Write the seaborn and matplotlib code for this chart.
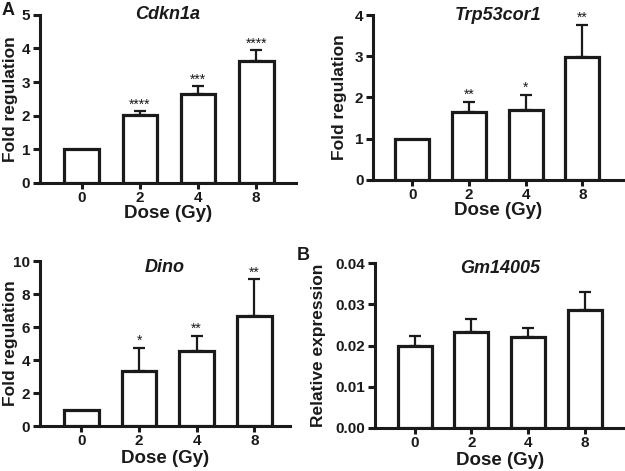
import matplotlib
matplotlib.use("Agg")
import matplotlib.pyplot as plt
import numpy as np
import pandas as pd
import seaborn as sns

# ---- data ----
doses = ["0", "2", "4", "8"]

cdkn1a_mean = [1.0, 2.03, 2.64, 3.64]
cdkn1a_err = [0.0, 0.10, 0.23, 0.30]
cdkn1a_sig = ["", "****", "***", "****"]

trp53_mean = [1.0, 1.64, 1.70, 2.99]
trp53_err = [0.0, 0.25, 0.36, 0.78]
trp53_sig = ["", "**", "*", "**"]

dino_mean = [1.0, 3.35, 4.57, 6.70]
dino_err = [0.0, 1.40, 0.88, 2.20]
dino_sig = ["", "*", "**", "**"]

gm_mean = [0.0199, 0.0232, 0.0222, 0.0287]
gm_err = [0.0025, 0.0032, 0.0021, 0.0042]
gm_sig = ["", "", "", ""]

sns.set_style("ticks")
plt.rcParams['font.family'] = ['Liberation Sans', 'DejaVu Sans']
plt.rcParams['font.weight'] = 'bold'

fig = plt.figure(figsize=(6.25, 4.71), dpi=100)
ink = "#1a1a1a"

panels = [
    # rect, title, ylabel, mean, err, sig, ytop, yticks, xlim, fmt, ylabel x, title y, xlabel pad
    ([0.064, 0.6115, 0.41, 0.357], "Cdkn1a", "Fold regulation",
     cdkn1a_mean, cdkn1a_err, cdkn1a_sig, 5, [0, 1, 2, 3, 4, 5], (-0.72, 3.69), "{:.0f}", -0.084, 1.0, 0),
    ([0.597, 0.618, 0.40, 0.350], "Trp53cor1", "Fold regulation",
     trp53_mean, trp53_err, trp53_sig, 4, [0, 1, 2, 3, 4], (-0.69, 3.72), "{:.0f}", -0.104, 1.0, 0),
    ([0.064, 0.0955, 0.40, 0.350], "Dino", "Fold regulation",
     dino_mean, dino_err, dino_sig, 10, [0, 2, 4, 6, 8, 10], (-0.72, 3.62), "{:.0f}", -0.086, 0.96, 1.5),
    ([0.60, 0.0913, 0.40, 0.350], "Gm14005", "Relative expression",
     gm_mean, gm_err, gm_sig, 0.04, [0, 0.01, 0.02, 0.03, 0.04], (-0.70, 3.71), "{:.2f}", -0.196, 0.97, 1.5),
]

for rect, title, ylabel, mean, err, sig, ytop, yticks, xlim, fmt, ylx, tty, xpad in panels:
    ax = fig.add_axes(rect)
    df = pd.DataFrame({"dose": doses, "value": mean})
    sns.barplot(data=df, x="dose", y="value", ax=ax, color="white",
                edgecolor=ink, linewidth=2.3, width=0.6, errorbar=None,
                zorder=3)
    x = np.arange(len(doses))
    e = np.array(err)
    m = np.array(mean)
    keep = e > 0
    ax.errorbar(x[keep], m[keep], yerr=[np.zeros(keep.sum()), e[keep]],
                fmt="none", ecolor=ink, elinewidth=1.6, capsize=4.5, capthick=1.6,
                zorder=2)
    for xi, mv, er, s in zip(x, mean, err, sig):
        if s:
            ax.text(xi, mv + er, s, ha="center", va="bottom",
                    fontsize=10, fontweight="normal", color=ink)
    ax.set_ylim(0, ytop)
    ax.set_xlim(*xlim)
    ax.set_yticks(yticks)
    ax.set_yticklabels([fmt.format(t) for t in yticks])
    ax.text(0.5, tty, title, transform=ax.transAxes, ha="center", va="center",
            fontsize=13, fontweight="bold", fontstyle="italic", color=ink)
    ax.set_xlabel("Dose (Gy)", fontsize=13.5, fontweight="bold", labelpad=xpad, color=ink)
    ax.set_ylabel(ylabel, fontsize=12.5, fontweight="bold", color=ink)
    ax.yaxis.set_label_coords(ylx, 0.5)
    for sp in ["top", "right"]:
        ax.spines[sp].set_visible(False)
    for sp in ["left", "bottom"]:
        ax.spines[sp].set_linewidth(2.2)
        ax.spines[sp].set_color(ink)
    ax.tick_params(axis="y", width=2.2, length=5, color=ink,
                   labelsize=11, labelcolor=ink, pad=2)
    ax.tick_params(axis="x", width=2.2, length=4, color=ink,
                   labelsize=11, labelcolor=ink, pad=2)
    for lab in ax.get_xticklabels() + ax.get_yticklabels():
        lab.set_fontweight("bold")

fig.text(0.003, 0.995, "A", fontsize=13, fontweight="bold", va="top", ha="left", color=ink)
fig.text(0.475, 0.475, "B", fontsize=13, fontweight="bold", va="top", ha="left", color=ink)

fig.savefig("out.png", dpi=100)
